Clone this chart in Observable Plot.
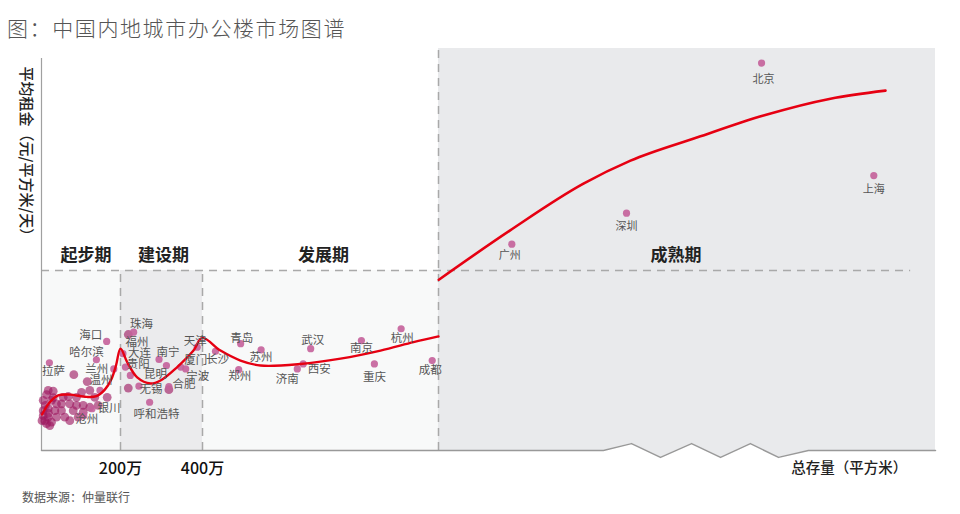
<!DOCTYPE html>
<html><head><meta charset="utf-8">
<script src="https://cdn.jsdelivr.net/npm/d3@7"></script>
<script src="https://cdn.jsdelivr.net/npm/@observablehq/plot@0.6"></script>
<style>
body{margin:0;width:960px;height:514px;overflow:hidden;background:#fff;font-family:"Noto Sans CJK SC",sans-serif;position:relative}
#title{position:absolute;left:7px;top:11px;font-size:21px;line-height:32px;color:#555;font-weight:300;letter-spacing:1.6px;white-space:nowrap}
#chart{position:absolute;left:0;top:48px}
#source{position:absolute;left:22px;top:488px;font-size:12px;line-height:18px;color:#555}
</style></head><body>
<div id="title">图：中国内地城市办公楼市场图谱</div>
<div id="chart"></div>
<div id="source">数据来源：仲量联行</div>
<script>
// ---- data (stock: 万平方米, rent: 元/平方米/天) ----
const startupCities = [
  {city:"拉萨", stock:20, rent:2.29}, {city:"海口", stock:165, rent:2.85},
  {city:"哈尔滨", stock:139, rent:2.37}, {city:"兰州", stock:183, rent:2.13},
  {city:"温州", stock:148, rent:1.57}, {city:"银川", stock:128, rent:1.09},
  {city:"沧州", stock:107, rent:0.91}
];
const buildCities = [
  {city:"珠海", stock:232, rent:3.09}, {city:"福州", stock:206, rent:2.53},
  {city:"大连", stock:212, rent:2.18}, {city:"贵阳", stock:224, rent:1.96},
  {city:"无锡", stock:245, rent:1.68}, {city:"呼和浩特", stock:271, rent:1.26},
  {city:"南宁", stock:294, rent:2.38}, {city:"昆明", stock:312, rent:2.22},
  {city:"合肥", stock:318, rent:1.67}, {city:"厦门", stock:347, rent:2.18},
  {city:"宁波", stock:359, rent:2.13}, {city:"天津", stock:387, rent:2.70}
];
const growthCities = [
  {city:"长沙", stock:433, rent:2.59}, {city:"青岛", stock:497, rent:2.79},
  {city:"苏州", stock:549, rent:2.63}, {city:"郑州", stock:492, rent:2.11},
  {city:"武汉", stock:675, rent:2.66}, {city:"济南", stock:641, rent:2.13},
  {city:"西安", stock:656, rent:2.26}, {city:"南京", stock:804, rent:2.87},
  {city:"杭州", stock:905, rent:3.18}, {city:"重庆", stock:837, rent:2.26},
  {city:"成都", stock:984, rent:2.35}
];
const matureCities = [
  {city:"广州", stock:1177, rent:5.39}, {city:"深圳", stock:1454, rent:6.20},
  {city:"北京", stock:1780, rent:10.12}, {city:"上海", stock:2051, rent:7.18}
];
// unlabeled smaller cities
const clusterStock = [81.8,115.7,101.3,166.3,17.0,29.6,12.7,4.3,25.3,38.0,50.6,71.6,88.6,105.6,67.6,88.6,134.9,122.3,4.3,17.0,33.7,50.6,80.3,105.6,122.3,143.5,4.3,17.0,38.0,59.0,92.9,8.4,25.3,12.7,1.3,71.6,10,17.7,29.6,54.9,21,219,219,318];
const clusterRent  = [1.98,1.80,1.52,1.39,1.57,1.55,1.46,1.31,1.31,1.22,1.22,1.22,1.18,1.18,1.41,1.39,1.39,1.57,1.04,1.10,1.04,1.04,1.04,1.00,1.13,1.18,0.91,0.87,0.87,0.87,0.87,0.78,0.74,0.70,0.78,0.78,1.18,0.97,1.38,1.39,0.65,3.03,1.63,1.59];
// trend curve (two segments)
const trendStock1 = [1.3,21,42.3,71.6,113.9,139.2,160.3,177.2,188.6,200,216.3,240.7,273.2,297.6,338.3,378,399.3,445.8,496.6,547.5,649.2,750.9,852.6,936.5,1000];
const trendRent1  = [0.94,1.26,1.44,1.46,1.40,1.42,1.59,1.87,2.22,2.66,2.31,1.91,1.75,1.83,2.18,2.61,2.94,2.61,2.35,2.22,2.26,2.40,2.61,2.83,2.98];
const trendStock2 = [1000.7,1173,1350,1463.6,1625.4,1784.7,1946.5,2079.3];
const trendRent2  = [4.46,5.75,6.97,7.57,8.18,8.75,9.19,9.40];
const phaseNames  = ["起步期","建设期","发展期","成熟期"];
const phaseBounds = [0,200,400,1000,2200];
const matureRentThreshold = 4.7;
const xTickValues = [200,400];
const xTickLabels = ["200万","400万"];
const yTitle = "平均租金（元/平方米/天）";
const xTitle = "总存量（平方米）";
// axis break (zigzag) in data units
const breakStock = [1000,1398,1466,1536,1611,1681,1753,1821,1893,2200];
const breakRent  = [0,0,0.18,-0.18,0.18,-0.18,0.18,-0.18,0,0];

// ---- build ----
const toPts = (xs, ys) => xs.map((x,i)=>({stock:x, rent:ys[i]}));
const trend1 = toPts(trendStock1, trendRent1);
const trend2 = toPts(trendStock2, trendRent2);
const cluster = toPts(clusterStock, clusterRent);
const axisPts = toPts(breakStock, breakRent);
const axisFull = [{stock:0, rent:0}, ...axisPts];
const namedCities = [...startupCities, ...buildCities, ...growthCities, ...matureCities];

const labelOffset = {
  拉萨:[4,8], 海口:[-16,-6], 哈尔滨:[-10,-7], 兰州:[-17,0], 温州:[1,-10], 银川:[17,0], 沧州:[3,4],
  珠海:[8,-8], 福州:[14,-11], 大连:[14,-14], 贵阳:[8,-11], 昆明:[-11,9], 无锡:[12,3], 呼和浩特:[7,12],
  南宁:[9,-7], 合肥:[15,-2], 厦门:[15,-7], 宁波:[12,7], 天津:[-2,-6],
  长沙:[2,8], 青岛:[1,-5], 苏州:[0,8], 郑州:[1,7], 武汉:[2,-8], 济南:[-10,10], 西安:[16,5],
  南京:[0,8], 杭州:[1,10], 重庆:[0,13], 成都:[-2,10],
  广州:[-2,11], 深圳:[0,13], 北京:[2,16], 上海:[0,14]
};
const phaseDx = [5,2,3,-11];
const phaseMid = phaseNames.map((p,i)=>({name:p, stock:(phaseBounds[i]+phaseBounds[i+1])/2}));

const dash = {stroke:"#a9a9a9", strokeWidth:1.5, strokeDasharray:"8,6"};
const font = "'Noto Sans CJK SC', sans-serif";

const marks = [
  // backgrounds
  Plot.rect([{x1:phaseBounds[0], x2:phaseBounds[3], y1:0, y2:matureRentThreshold}], {x1:"x1", x2:"x2", y1:"y1", y2:"y2", fill:"#f8f9f9"}),
  Plot.rect([{x1:phaseBounds[1], x2:phaseBounds[2], y1:0, y2:matureRentThreshold}], {x1:"x1", x2:"x2", y1:"y1", y2:"y2", fill:"#ebebed"}),
  Plot.areaY(axisPts, {x:"stock", y1:"rent", y2:()=>10.5, fill:"#e9eaec"}),
  // dashed phase lines
  Plot.ruleY([matureRentThreshold], {x1:0, x2:2140, ...dash}),
  Plot.ruleX([phaseBounds[1], phaseBounds[2]], {y1:0, y2:matureRentThreshold, ...dash}),
  Plot.ruleX([phaseBounds[3]], {y1:0, y2:10.5, ...dash}),
  // axes
  Plot.ruleX([0], {y1:0, y2:10.24, stroke:"#a0a0a0", strokeWidth:1.2}),
  Plot.line(axisFull, {x:"stock", y:"rent", stroke:"#999", strokeWidth:1.5}),
  // dots
  Plot.dot(cluster, {x:"stock", y:"rent", r:4.4, fill:"#9c1660", fillOpacity:0.62}),
  Plot.dot(namedCities, {x:"stock", y:"rent", r:3.6, fill:"#c4609a", fillOpacity:0.9}),
  // trend
  Plot.line(trend1, {x:"stock", y:"rent", stroke:"#e60012", strokeWidth:2.4, curve:"catmull-rom"}),
  Plot.line(trend2, {x:"stock", y:"rent", stroke:"#e60012", strokeWidth:2.6, curve:"monotone-x"}),
  // city labels
  ...namedCities.map(c => Plot.text([c], {x:"stock", y:"rent", text:"city",
      dx:labelOffset[c.city][0], dy:labelOffset[c.city][1],
      fill:"#555", fontSize: c.stock >= 1000 ? 11 : 11.5})),
  // phase labels
  ...phaseMid.map((p,i) => Plot.text([p], {x:"stock", y:()=>5.09, text:"name", dx:phaseDx[i],
      fontSize:17, fontWeight:"bold", fill:"#222"})),
  // x tick labels
  Plot.text(xTickValues, {x:d=>d, y:()=>-0.47, text:(d,i)=>xTickLabels[i], fontSize:16, fontWeight:500, fill:"#111"}),
  Plot.text([xTitle], {x:()=>1992, y:()=>-0.47, text:d=>d, fontSize:14.5, fontWeight:500, fill:"#222"}),
  // y title
  Plot.text([yTitle], {x:()=>-39, y:()=>7.72, text:d=>d, rotate:90, fontSize:15, fontWeight:500, fill:"#222"})
];

const chart = Plot.plot({
  width:960, height:436,
  marginTop:0, marginBottom:34, marginLeft:0, marginRight:0,
  style:{fontFamily:font, background:"transparent", overflow:"visible"},
  x:{type:"linear", domain:phaseBounds, range:[41,120,202,438,935], axis:null},
  y:{type:"linear", domain:[0,10.5], range:[402,0], axis:null},
  marks
});
document.getElementById("chart").appendChild(chart);
</script></body></html>
